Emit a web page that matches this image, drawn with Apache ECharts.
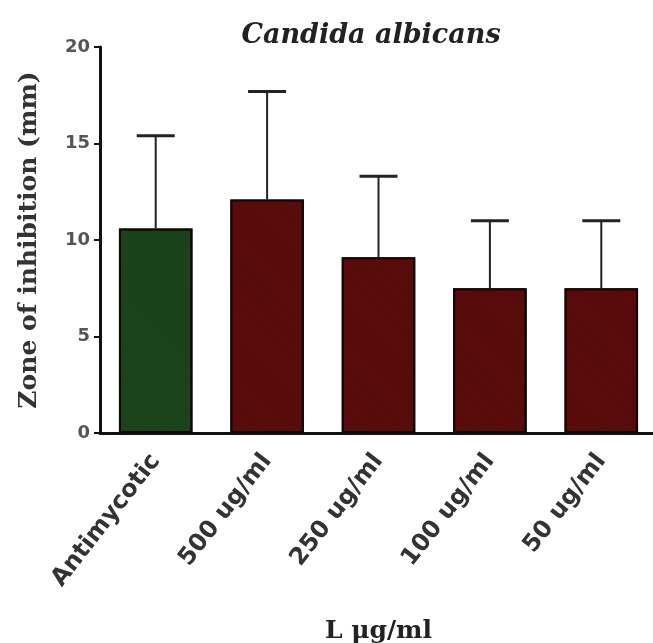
<!DOCTYPE html>
<html>
<head>
<meta charset="utf-8">
<script src="https://cdn.jsdelivr.net/npm/echarts@6/dist/echarts.min.js"></script>
<style>html,body{margin:0;padding:0;background:#fff}#c{width:653px;height:643px}</style>
</head>
<body>
<div id="c"></div>
<script>
var categories = ['Antimycotic', '500 ug/ml', '250 ug/ml', '100 ug/ml', '50 ug/ml'];
var means = [10.6, 12.1, 9.1, 7.5, 7.5];
var errors = [4.8, 5.6, 4.2, 3.5, 3.5];
var barColors = ['#1c431c', '#5a0c0c', '#5a0c0c', '#5a0c0c', '#5a0c0c'];
var yTicks = [0, 5, 10, 15, 20];

var chart = echarts.init(document.getElementById('c'), null, {renderer: 'canvas'});
var errData = means.map(function (m, i) { return [i, m, m + errors[i]]; });

chart.setOption({
  animation: false,
  backgroundColor: '#fff',
  title: {
    text: 'Candida albicans',
    left: 366, top: 17, textAlign: 'center',
    textStyle: {fontFamily: 'DejaVu Serif', fontStyle: 'italic', fontWeight: 'bold', fontSize: 27, color: '#222'}
  },
  grid: {left: 100, right: -4, top: 47, bottom: 210, containLabel: false, outerBoundsMode: 'none'},
  xAxis: {
    type: 'category', data: categories,
    name: 'L μg/ml', nameLocation: 'middle', nameGap: 186,
    nameTextStyle: {fontFamily: 'DejaVu Serif', fontWeight: 'bold', fontSize: 25, color: '#222'},
    axisLine: {lineStyle: {color: '#111', width: 3}},
    axisTick: {alignWithLabel: true, length: 7, lineStyle: {color: '#111', width: 2}},
    axisLabel: {rotate: 52, interval: 0, margin: 24, fontFamily: 'DejaVu Sans', fontWeight: 'bold', fontSize: 24, color: '#333'}
  },
  yAxis: {
    type: 'value', min: 0, max: 20, interval: 5,
    name: 'Zone of inhibition (mm)', nameLocation: 'middle', nameGap: 58, nameRotate: 90,
    nameTextStyle: {fontFamily: 'DejaVu Serif', fontWeight: 'bold', fontSize: 25, color: '#333'},
    axisLine: {show: true, lineStyle: {color: '#111', width: 3}},
    axisTick: {show: true, length: 6, lineStyle: {color: '#111', width: 2}},
    splitLine: {show: false},
    axisLabel: {margin: 10, fontFamily: 'DejaVu Sans', fontWeight: 'bold', fontSize: 18, color: '#555',
      formatter: function (v) { return yTicks.indexOf(v) >= 0 ? String(v) : ''; }}
  },
  series: [
    {
      type: 'bar', barWidth: '66%',
      data: means.map(function (m, i) {
        return {value: m, itemStyle: {color: barColors[i], borderColor: '#120808', borderWidth: 2,
          decal: {symbol: 'rect', symbolSize: 0.5, dashArrayX: [1, 0], dashArrayY: [2, 4], rotation: Math.PI / 4, color: 'rgba(0,0,0,0.18)'}}};
      }),
      z: 2
    },
    {
      type: 'custom', z: 3,
      data: errData,
      renderItem: function (params, api) {
        var x = api.value(0);
        var lo = api.coord([x, api.value(1)]);
        var hi = api.coord([x, api.value(2)]);
        var cw = 19;
        return {
          type: 'group',
          children: [
            {type: 'line', shape: {x1: lo[0], y1: lo[1], x2: hi[0], y2: hi[1]}, style: {stroke: '#222', lineWidth: 2}},
            {type: 'line', shape: {x1: hi[0] - cw, y1: hi[1], x2: hi[0] + cw, y2: hi[1]}, style: {stroke: '#222', lineWidth: 3}}
          ]
        };
      }
    }
  ]
});
</script>
</body>
</html>
